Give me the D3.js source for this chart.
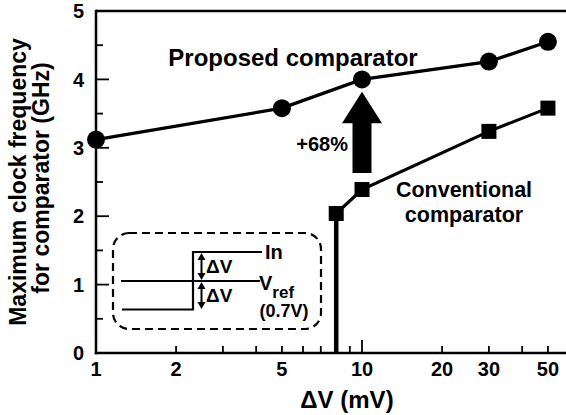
<!DOCTYPE html>
<html>
<head>
<meta charset="utf-8">
<script src="https://cdn.jsdelivr.net/npm/d3@7"></script>
<style>
  html, body { margin: 0; padding: 0; background: #fff; }
  svg { display: block; font-family: "Liberation Sans", Arial, sans-serif; font-weight: bold; }
</style>
</head>
<body>
<svg id="chart" width="566" height="415"></svg>
<script>
// ---- data ----
const proposedX = [1, 5, 10, 30, 50];
const proposedY = [3.12, 3.58, 4.0, 4.26, 4.55];
const conventionalX = [8, 10, 30, 50];
const conventionalY = [2.04, 2.39, 3.24, 3.58];
const xTickValues = [1, 2, 3, 4, 5, 6, 7, 8, 9, 10, 20, 30, 40, 50];
const xTickLabels = [1, 2, 5, 10, 20, 30, 50];
const yTickMajor = [0, 1, 2, 3, 4, 5];
const yTickMinor = [0.5, 1.5, 2.5, 3.5, 4.5];
const arrowX = 10;
const arrowFrom = 2.63, arrowHeadBase = 3.36, arrowTo = 3.82;
const improvementLabel = "+68%";

const svg = d3.select("#chart");
const pLeft = 96, pTop = 11, pBottom = 353, pRight = 569;
const x = d3.scaleLog().domain([1, 60]).range([pLeft, pRight]);
const y = d3.scaleLinear().domain([0, 5]).range([pBottom, pTop]);

// frame: left axis, bottom axis, top border
svg.append("line").attr("x1", pLeft).attr("x2", 566).attr("y1", pTop).attr("y2", pTop)
  .attr("stroke", "#000").attr("stroke-width", 2.5);
svg.append("line").attr("x1", pLeft).attr("x2", pLeft).attr("y1", pTop - 1.2).attr("y2", pBottom + 1.2)
  .attr("stroke", "#000").attr("stroke-width", 2.5);
svg.append("line").attr("x1", pLeft - 1.2).attr("x2", 566).attr("y1", pBottom).attr("y2", pBottom)
  .attr("stroke", "#000").attr("stroke-width", 2.5);

// x ticks (inward)
svg.append("g").selectAll("line").data(xTickValues.filter(d => d !== 1)).join("line")
  .attr("x1", d => x(d)).attr("x2", d => x(d))
  .attr("y1", pBottom).attr("y2", d => pBottom - (d === 10 ? 13 : 7))
  .attr("stroke", "#000").attr("stroke-width", 1.8);
svg.append("g").selectAll("text").data(xTickLabels).join("text")
  .attr("x", d => x(d)).attr("y", 376)
  .attr("text-anchor", "middle").attr("font-size", 20)
  .text(d => d);

// y ticks (inward)
svg.append("g").selectAll("line").data(yTickMajor.filter(d => d > 0 && d < 5)).join("line")
  .attr("x1", pLeft).attr("x2", pLeft + 13)
  .attr("y1", d => y(d)).attr("y2", d => y(d))
  .attr("stroke", "#000").attr("stroke-width", 1.8);
svg.append("g").selectAll("line").data(yTickMinor).join("line")
  .attr("x1", pLeft).attr("x2", pLeft + 7)
  .attr("y1", d => y(d)).attr("y2", d => y(d))
  .attr("stroke", "#000").attr("stroke-width", 1.8);
svg.append("g").selectAll("text").data(yTickMajor).join("text")
  .attr("x", 84).attr("y", d => y(d)).attr("dy", "0.36em")
  .attr("text-anchor", "end").attr("font-size", 20)
  .text(d => d);

// axis titles
svg.append("text").attr("x", 347).attr("y", 408).attr("text-anchor", "middle")
  .attr("font-size", 24).text("ΔV (mV)");
svg.append("text").attr("transform", "translate(26,182) rotate(-90)")
  .attr("text-anchor", "middle").attr("font-size", 23).text("Maximum clock frequency");
svg.append("text").attr("transform", "translate(49,178) rotate(-90)")
  .attr("text-anchor", "middle").attr("font-size", 23).text("for comparator (GHz)");

// inset (schematic)
const inset = svg.append("g");
inset.append("rect").attr("x", 113).attr("y", 233).attr("width", 208).attr("height", 96)
  .attr("rx", 16).attr("ry", 16)
  .attr("fill", "none").attr("stroke", "#000").attr("stroke-width", 2.2)
  .attr("stroke-dasharray", "8,5");
inset.append("path").attr("d", "M122,309.5 H193 V252 H262")
  .attr("fill", "none").attr("stroke", "#000").attr("stroke-width", 2.2);
inset.append("line").attr("x1", 121).attr("x2", 260).attr("y1", 281).attr("y2", 281)
  .attr("stroke", "#000").attr("stroke-width", 2.2);
function dblArrow(x0, y0, y1) {
  inset.append("line").attr("x1", x0).attr("x2", x0).attr("y1", y0 + 4).attr("y2", y1 - 4)
    .attr("stroke", "#000").attr("stroke-width", 2);
  inset.append("path").attr("d", `M${x0},${y0} l-4,7 h8 Z`).attr("fill", "#000");
  inset.append("path").attr("d", `M${x0},${y1} l-4,-7 h8 Z`).attr("fill", "#000");
}
dblArrow(201.5, 253, 280);
dblArrow(201.5, 282, 309);
inset.append("text").attr("x", 206).attr("y", 273).attr("font-size", 19).text("ΔV");
inset.append("text").attr("x", 206).attr("y", 302).attr("font-size", 19).text("ΔV");
inset.append("text").attr("x", 265).attr("y", 259).attr("font-size", 20).text("In");
const vref = inset.append("text").attr("x", 259).attr("y", 290).attr("font-size", 20);
vref.append("tspan").text("V");
vref.append("tspan").attr("dy", 8).attr("font-size", 17).text("ref");
inset.append("text").attr("x", 284).attr("y", 317).attr("text-anchor", "middle")
  .attr("font-size", 18).text("(0.7V)");

// conventional vertical drop at first point
svg.append("line")
  .attr("x1", x(conventionalX[0])).attr("x2", x(conventionalX[0]))
  .attr("y1", y(0)).attr("y2", y(conventionalY[0]))
  .attr("stroke", "#000").attr("stroke-width", 4.5);

// series lines
const proposed = proposedX.map((d, i) => [d, proposedY[i]]);
const conventional = conventionalX.map((d, i) => [d, conventionalY[i]]);
const line = d3.line().x(d => x(d[0])).y(d => y(d[1]));
svg.append("path").datum(proposed).attr("d", line)
  .attr("fill", "none").attr("stroke", "#000").attr("stroke-width", 3.2);
svg.append("path").datum(conventional).attr("d", line)
  .attr("fill", "none").attr("stroke", "#000").attr("stroke-width", 3.2);

// markers
svg.append("g").selectAll("circle").data(proposed).join("circle")
  .attr("cx", d => x(d[0])).attr("cy", d => y(d[1])).attr("r", 9).attr("fill", "#000");
const sq = 15;
svg.append("g").selectAll("rect").data(conventional).join("rect")
  .attr("x", d => x(d[0]) - sq / 2).attr("y", d => y(d[1]) - sq / 2)
  .attr("width", sq).attr("height", sq).attr("fill", "#000");

// improvement arrow
const ax = x(arrowX);
svg.append("path")
  .attr("d", `M${ax - 9.5},${y(arrowFrom)} V${y(arrowHeadBase)} H${ax - 20} L${ax},${y(arrowTo)} L${ax + 20},${y(arrowHeadBase)} H${ax + 9.5} V${y(arrowFrom)} Z`)
  .attr("fill", "#000");
svg.append("text").attr("x", 348).attr("y", 151).attr("text-anchor", "end")
  .attr("font-size", 20).text(improvementLabel);

// series labels
svg.append("text").attr("x", 293).attr("y", 65.5).attr("text-anchor", "middle")
  .attr("font-size", 24).text("Proposed comparator");
svg.append("text").attr("x", 464).attr("y", 197).attr("text-anchor", "middle")
  .attr("font-size", 21.5).text("Conventional");
svg.append("text").attr("x", 464).attr("y", 222).attr("text-anchor", "middle")
  .attr("font-size", 21.5).text("comparator");
</script>
</body>
</html>
